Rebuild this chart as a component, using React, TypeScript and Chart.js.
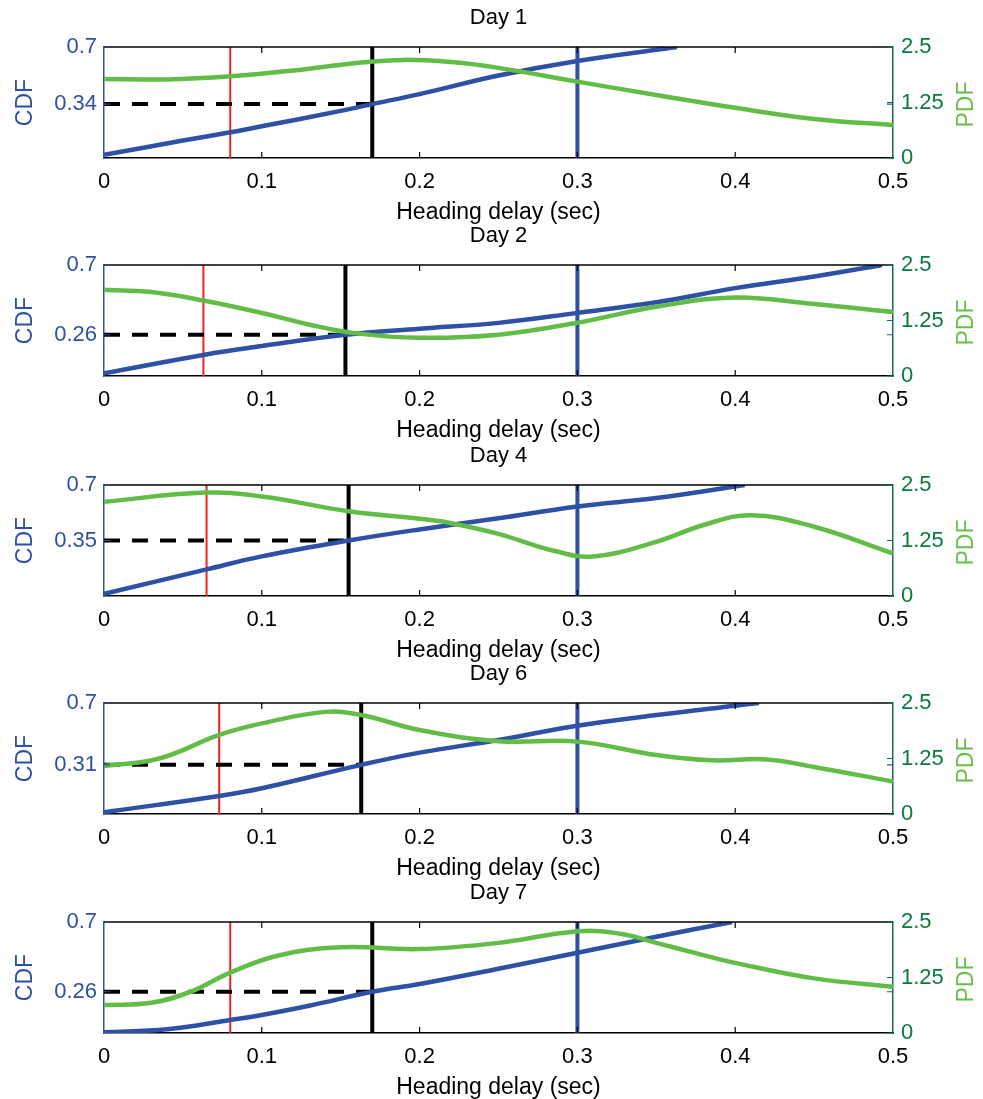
import React, { useEffect, useRef } from 'react';
import { Chart, registerables } from 'chart.js';

Chart.register(...registerables);

const FONT = '"Liberation Sans", Arial, Helvetica, sans-serif';

// ---------- data ----------
const dayTitles = ['Day 1', 'Day 2', 'Day 4', 'Day 6', 'Day 7'];
const xTicks = [0, 0.1, 0.2, 0.3, 0.4, 0.5];
const pdfTicks = [0, 1.25, 2.5];
const cdfMax = 0.7;
const pdfMax = 2.5;
const xMax = 0.5;
const cdfMarks = [0.34, 0.26, 0.35, 0.31, 0.26];
const redLines = [0.08, 0.063, 0.065, 0.073, 0.08];
const blackLines = [0.17, 0.153, 0.155, 0.163, 0.17];
const blueLines = [0.3, 0.3, 0.3, 0.3, 0.3];

const day1Cdf = [[0, 0.02], [0.05, 0.11], [0.08, 0.162], [0.1, 0.2], [0.15, 0.297], [0.17, 0.34], [0.2, 0.403], [0.25, 0.52], [0.3, 0.612], [0.363, 0.7]];
const day1Pdf = [[0, 1.78], [0.04, 1.77], [0.08, 1.84], [0.12, 1.97], [0.16, 2.14], [0.19, 2.21], [0.22, 2.16], [0.25, 2.03], [0.3, 1.72], [0.35, 1.42], [0.4, 1.13], [0.45, 0.88], [0.5, 0.74]];

const day2Cdf = [[0, 0.017], [0.063, 0.133], [0.1, 0.189], [0.153, 0.26], [0.2, 0.298], [0.25, 0.335], [0.3, 0.398], [0.35, 0.465], [0.4, 0.554], [0.45, 0.627], [0.493, 0.7]];
const day2Pdf = [[0, 1.94], [0.03, 1.89], [0.063, 1.7], [0.1, 1.42], [0.13, 1.16], [0.16, 0.96], [0.2, 0.86], [0.25, 0.93], [0.3, 1.2], [0.35, 1.56], [0.4, 1.77], [0.45, 1.62], [0.5, 1.44]];

const day4Cdf = [[0, 0.013], [0.065, 0.168], [0.1, 0.25], [0.155, 0.35], [0.2, 0.42], [0.25, 0.49], [0.3, 0.565], [0.35, 0.618], [0.406, 0.7]];
const day4Pdf = [[0, 2.12], [0.064, 2.33], [0.1, 2.24], [0.155, 1.91], [0.2, 1.74], [0.22, 1.64], [0.25, 1.4], [0.285, 1.02], [0.31, 0.89], [0.35, 1.22], [0.38, 1.6], [0.41, 1.82], [0.45, 1.56], [0.5, 0.96]];

const day6Cdf = [[0, 0.011], [0.073, 0.114], [0.1, 0.162], [0.163, 0.31], [0.2, 0.387], [0.25, 0.467], [0.3, 0.557], [0.35, 0.624], [0.4, 0.683], [0.415, 0.7]];
const day6Pdf = [[0, 1.08], [0.035, 1.25], [0.073, 1.78], [0.1, 2.04], [0.14, 2.3], [0.163, 2.23], [0.2, 1.89], [0.25, 1.64], [0.3, 1.63], [0.35, 1.33], [0.385, 1.21], [0.42, 1.23], [0.45, 1.06], [0.5, 0.73]];

const day7Cdf = [[0, 0.004], [0.04, 0.023], [0.08, 0.082], [0.1, 0.114], [0.13, 0.172], [0.17, 0.26], [0.2, 0.309], [0.25, 0.405], [0.3, 0.506], [0.35, 0.607], [0.398, 0.7]];
const day7Pdf = [[0, 0.63], [0.03, 0.68], [0.055, 0.93], [0.08, 1.36], [0.11, 1.74], [0.15, 1.93], [0.2, 1.89], [0.25, 2.03], [0.29, 2.25], [0.31, 2.3], [0.33, 2.22], [0.35, 2.03], [0.375, 1.8], [0.4, 1.58], [0.45, 1.23], [0.5, 1.04]];

const cdfSeries = [day1Cdf, day2Cdf, day4Cdf, day6Cdf, day7Cdf];
const pdfSeries = [day1Pdf, day2Pdf, day4Pdf, day6Pdf, day7Pdf];

// ---------- layout / style ----------
const PAGE_W = 983;
const PAGE_H = 1099;
const plotTops = [47, 265, 485, 703, 922];
const TITLE_BOX = 40;
const PLOT_H = 111;
const XAXIS_H = 66;
const LEFT_W = 104;
const RIGHT_W = 90;

const BLUE = '#2E51A6';
const GREEN = '#62BD47';
const DARK_GREEN = '#0B7A3E';
const AXIS_GREEN = '#17704C';
const LIGHT_GREEN = '#6ABF4B';
const RED = '#EE2222';
const BLACK = '#000000';

const fmt = (v: number) => String(Math.round(v * 100) / 100);
const pts = (arr: number[][]) => arr.map(([x, y]) => ({ x, y }));

const framePlugin = {
  id: 'frame',
  afterDraw(chart: any, _args: any, opts: any) {
    const { ctx, chartArea: a, scales } = chart;
    ctx.save();
    ctx.strokeStyle = BLACK;
    ctx.lineWidth = 1.5;
    ctx.beginPath();
    ctx.moveTo(a.left, a.top);
    ctx.lineTo(a.right, a.top);
    ctx.stroke();
    ctx.lineWidth = 1.2;
    ctx.beginPath();
    for (const v of xTicks) {
      if (v === 0 || v === xMax) continue;
      const px = scales.x.getPixelForValue(v);
      ctx.moveTo(px, a.bottom);
      ctx.lineTo(px, a.bottom - 6);
      ctx.moveTo(px, a.top);
      ctx.lineTo(px, a.top + 6);
    }
    ctx.stroke();
    ctx.strokeStyle = BLUE;
    ctx.beginPath();
    for (const v of opts.cdfTicks) {
      const py = scales.y.getPixelForValue(v);
      ctx.moveTo(a.left, py);
      ctx.lineTo(a.left + 6, py);
      ctx.moveTo(a.right - 6, py);
      ctx.lineTo(a.right, py);
    }
    ctx.stroke();
    ctx.strokeStyle = DARK_GREEN;
    ctx.beginPath();
    for (const v of pdfTicks) {
      const py = scales.y1.getPixelForValue(v);
      ctx.moveTo(a.right - 6, py);
      ctx.lineTo(a.right, py);
    }
    ctx.stroke();
    ctx.translate(scales.y1.right - 16, (a.top + a.bottom) / 2 + 2);
    ctx.rotate(-Math.PI / 2);
    ctx.font = `23px ${FONT}`;
    ctx.fillStyle = LIGHT_GREEN;
    ctx.textAlign = 'center';
    ctx.textBaseline = 'middle';
    ctx.fillText('PDF', 0, 0);
    ctx.restore();
  },
};

function Panel({ index, top, height }: { index: number; top: number; height: number }) {
  const ref = useRef<HTMLCanvasElement>(null);
  useEffect(() => {
    if (!ref.current) return;
    const mark = cdfMarks[index];
    const cdfTicks = [mark, cdfMax];
    const tickFont = { family: FONT, size: 22, weight: 'normal' as const };
    const titleFont = { family: FONT, size: 23, weight: 'normal' as const, lineHeight: 1 };
    const vline = (x: number, color: string, w: number) => ({
      data: [{ x, y: 0 }, { x, y: cdfMax }],
      yAxisID: 'y',
      borderColor: color,
      borderWidth: w,
      pointRadius: 0,
      tension: 0,
      fill: false,
    });
    const chart = new Chart(ref.current, {
      type: 'line',
      data: {
        datasets: [
          {
            label: 'PDF',
            data: pts(pdfSeries[index]),
            yAxisID: 'y1',
            borderColor: GREEN,
            borderWidth: 4.5,
            pointRadius: 0,
            tension: 0.4,
            fill: false,
          },
          {
            label: 'CDF',
            data: pts(cdfSeries[index]),
            yAxisID: 'y',
            borderColor: BLUE,
            borderWidth: 4.5,
            pointRadius: 0,
            tension: 0.4,
            fill: false,
          },
          { label: 'mark', ...vline(blackLines[index], BLACK, 4) },
          {
            label: 'dashed',
            data: [{ x: 0, y: mark }, { x: blackLines[index], y: mark }],
            yAxisID: 'y',
            borderColor: BLACK,
            borderWidth: 4,
            borderDash: [16, 12],
            pointRadius: 0,
            tension: 0,
            fill: false,
          },
          { label: 'red', ...vline(redLines[index], RED, 2) },
          { label: 'blue', ...vline(blueLines[index], BLUE, 4) },
        ],
      },
      options: {
        responsive: false,
        animation: false,
        events: [],
        layout: { padding: { left: 0, right: 0, top: 0, bottom: height - (TITLE_BOX + PLOT_H + XAXIS_H) } },
        plugins: {
          legend: { display: false },
          tooltip: { enabled: false },
          title: {
            display: true,
            text: dayTitles[index],
            fullSize: false,
            color: BLACK,
            font: { family: FONT, size: 22, weight: 'normal', lineHeight: 1 },
            padding: { top: 0, bottom: TITLE_BOX - 22 },
          },
          frame: { cdfTicks },
        },
        scales: {
          x: {
            type: 'linear',
            position: 'bottom',
            min: 0,
            max: xMax,
            afterBuildTicks: (s: any) => {
              s.ticks = xTicks.map((v) => ({ value: v }));
            },
            afterFit: (s: any) => {
              s.height = XAXIS_H;
            },
            ticks: { autoSkip: false, maxRotation: 0, color: BLACK, padding: 11, font: tickFont, callback: (v: any) => fmt(Number(v)) },
            grid: { display: false, drawTicks: false },
            border: { display: true, color: BLACK, width: 1.5 },
            title: { display: true, text: 'Heading delay (sec)', color: BLACK, font: titleFont, padding: { top: 0, bottom: 0 } },
          },
          y: {
            type: 'linear',
            position: 'left',
            min: 0,
            max: cdfMax,
            afterBuildTicks: (s: any) => {
              s.ticks = cdfTicks.map((v) => ({ value: v }));
            },
            afterFit: (s: any) => {
              s.width = LEFT_W;
            },
            ticks: { autoSkip: false, color: BLUE, padding: 7, font: tickFont, callback: (v: any) => fmt(Number(v)) },
            grid: { display: false, drawTicks: false },
            border: { display: true, color: BLUE, width: 1.5 },
            title: { display: true, text: 'CDF', color: BLUE, font: titleFont, padding: { top: 14.5, bottom: 0 } },
          },
          y1: {
            type: 'linear',
            position: 'right',
            min: 0,
            max: pdfMax,
            afterBuildTicks: (s: any) => {
              s.ticks = pdfTicks.map((v) => ({ value: v }));
            },
            afterFit: (s: any) => {
              s.width = RIGHT_W;
            },
            ticks: { autoSkip: false, color: DARK_GREEN, padding: 8, font: tickFont, callback: (v: any) => fmt(Number(v)) },
            grid: { display: false, drawTicks: false },
            border: { display: true, color: AXIS_GREEN, width: 1.5 },
            title: { display: false },
          },
        },
      } as any,
      plugins: [framePlugin],
    });
    return () => chart.destroy();
  }, [index, height]);
  return (
    <div style={{ position: 'absolute', left: 0, top, width: PAGE_W, height }}>
      <canvas ref={ref} width={PAGE_W} height={height} style={{ width: PAGE_W, height, display: 'block' }} />
    </div>
  );
}

export default function App() {
  const tops = plotTops.map((t) => t - TITLE_BOX);
  return (
    <div style={{ position: 'absolute', left: 0, top: 0, width: PAGE_W, height: PAGE_H, background: '#fff', overflow: 'hidden' }}>
      {tops.map((t, i) => (
        <Panel key={i} index={i} top={t} height={(i < tops.length - 1 ? tops[i + 1] : PAGE_H) - t} />
      ))}
    </div>
  );
}
